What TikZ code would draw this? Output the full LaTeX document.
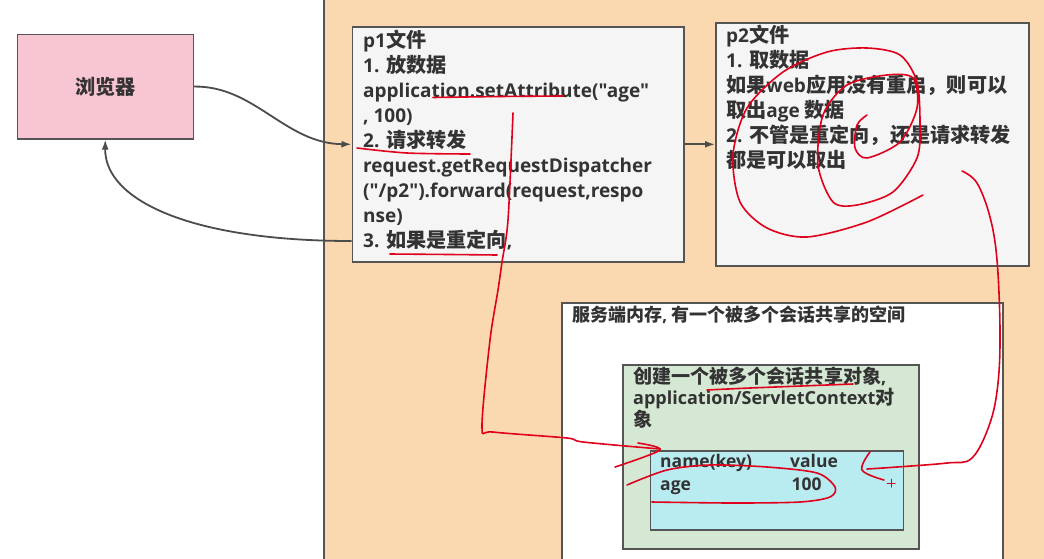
\documentclass[tikz,border=0pt]{standalone}
\usepackage{fontspec}
\setmainfont{Open Sans}[Ligatures=TeXOff]
\newfontfamily\zhfont{Noto Sans CJK SC}[Scale=1.06]
\newcommand{\zh}[1]{{\zhfont #1}}
\usetikzlibrary{arrows.meta}

\definecolor{ink}{HTML}{333333}
\definecolor{edge}{HTML}{555555}
\definecolor{beige}{HTML}{FAD9B1}
\definecolor{paper}{HTML}{F5F5F5}
\definecolor{pinkfill}{HTML}{F8C5D3}
\definecolor{greenfill}{HTML}{D5E8D4}
\definecolor{cyanfill}{HTML}{B8ECF0}
\definecolor{penred}{HTML}{E0001B}

\begin{document}
\begin{tikzpicture}[
  x=1pt, y=-1pt,
  box/.style  = {draw=edge, line width=1.6pt, inner sep=0pt, anchor=north west},
  txt/.style  = {anchor=base west, align=left, inner sep=0pt, text=ink,
                 font=\bfseries\fontsize{19}{25}\selectfont},
  small/.style= {txt, font=\bfseries\fontsize{17.5}{21.7}\selectfont},
  ar/.style   = {-{Latex[length=10pt,width=7pt]}, draw=edge!90!black, line width=1.8pt},
  pen/.style  = {draw=penred, line width=1.6pt, line cap=round, line join=round},
]
\clip (0,0) rectangle (1044,558);
\fill[white] (0,0) rectangle (1044,558);

% ---- server side panel -----------------------------------------------------
\node[box, fill=beige, minimum width=760, minimum height=620] (server) at (323,-30) {};

% ---- browser ---------------------------------------------------------------
\node[box, fill=pinkfill, minimum width=176, minimum height=104.5, text=ink,
      font=\bfseries\fontsize{19}{25}\selectfont] (browser) at (16.5,33.5) {\zh{浏览器}};

% ---- p1 / p2 ---------------------------------------------------------------
\node[box, fill=paper, minimum width=331.5, minimum height=235] (p1) at (351.5,26) {};
\node[box, fill=paper, minimum width=313, minimum height=243]   (p2) at (715,22) {};

% base of a multi-line node = its last line
\node[txt] (p1txt) at (363,247) {p1\zh{文件}\\
  1. \zh{放数据}\\
  application.setAttribute("age"\\
  , 100)\\
  2. \zh{请求转发}\\
  request.getRequestDispatcher\\
  ("/p2").forward(request,respo\\
  nse)\\
  3. \zh{如果是重定向},};

\node[txt] (p2txt) at (726,167) {p2\zh{文件}\\
  1. \zh{取数据}\\
  \zh{如果}web\zh{应用没有重启，则可以}\\
  \zh{取出}age \zh{数据}\\
  2. \zh{不管是重定向，还是请求转发}\\
  \zh{都是可以取出}};

% ---- server memory ---------------------------------------------------------
\node[box, fill=white, minimum width=441, minimum height=290]       (mem) at (561,302) {};
\node[box, fill=greenfill, minimum width=296, minimum height=184]   (ctx) at (622,364) {};
\node[box, fill=cyanfill, minimum width=253, minimum height=79]     (tbl) at (649.5,450) {};

\node[txt, font=\bfseries\fontsize{17}{20}\selectfont] (memtxt) at (572,321)
  {\zh{服务端内存}, \zh{有一个被多个会话共享的空间}};
\node[txt, font=\bfseries\fontsize{18}{21.7}\selectfont] (ctxtxt) at (633,426.4)
  {\zh{创建一个被多个会话共享对象},\\
  application/ServletContext\zh{对}\\
  \zh{象}};
\node[small] (key)  at (660,467)   {name(key)};
\node[small] (val)  at (790,467)   {value};
\node[small] (name) at (660,490)   {age};
\node[small] (num)  at (791.5,490) {100};

% ---- request flow ----------------------------------------------------------
\coordinate (back) at (351.5,241);
\draw[ar] (browser.east) .. controls (255,85.75) and (285,143.5) .. (p1.west);
\draw[ar] (p1.east) -- (p2.west);
\draw[ar] (back) .. controls (190,241) and (104.5,200) .. (browser.south);

% ---- red pen marks ---------------------------------------------------------
\draw[pen] plot[smooth] coordinates {(433,97.5) (500,96.5) (563,96)};
\draw[pen] plot[smooth] coordinates {(357,148) (407,153) (470,154)};
\draw[pen] plot[smooth] coordinates {(390,254) (450,254.5) (497,255)};
\draw[pen] plot[smooth, tension=0.5] coordinates {(513,113) (508,220) (502,262)
  (498,290) (490,340) (482,427) (493,432) (567,438) (583,442) (660,449)};
\draw[pen] plot[smooth, tension=0.5] coordinates {(638,443) (660,450) (615,467)};
\draw[pen] plot[smooth] coordinates {(627,485) (667,470) (710,465) (767,467)
  (817,473) (835,487) (830,497) (800,502) (733,503) (652,502)};
\draw[pen] plot[smooth] coordinates {(707,390) (750,388) (853,384)};
\draw[pen] plot[smooth, tension=0.6] coordinates {(962,171) (977,183) (990,217)
  (997,260) (1000,330) (998,383) (990,423) (972,458) (947,463) (897,467) (867,469)};
\draw[pen] plot[smooth, tension=0.6] coordinates {(870,452) (862,470) (884,480)};
\draw[pen, line width=1pt] (887,483) -- (895,483) (891,479) -- (891,487);
\draw[pen] plot[smooth] coordinates {(867,115) (857,125) (855,148) (867,158)
  (900,142) (917,108) (913,78) (887,75) (847,85) (823,115) (818,165) (833,202)
  (857,205) (893,192) (917,158) (920,125) (917,82) (900,55) (867,48) (827,52)
  (783,72) (747,108) (733,155) (740,202) (767,228) (807,237) (867,222) (923,195)};

\end{tikzpicture}
\end{document}
